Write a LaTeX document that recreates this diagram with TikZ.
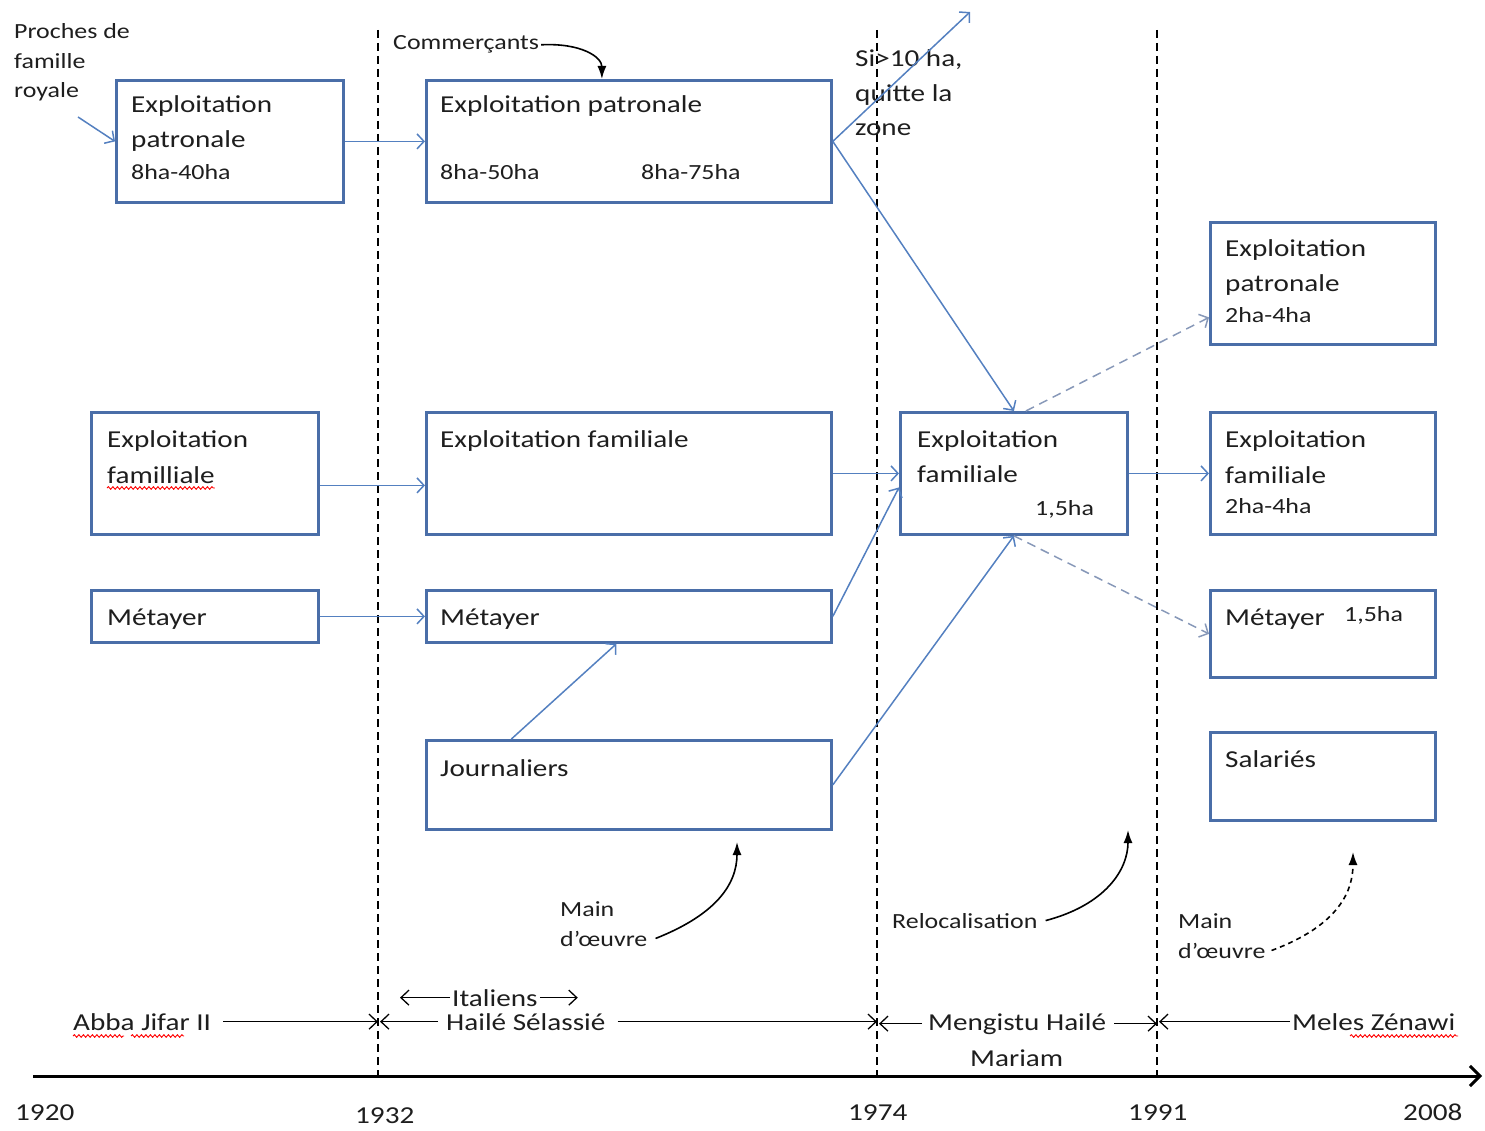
\documentclass[tikz,border=0pt]{standalone}
\usepackage{fontspec}
\setmainfont{Carlito}[FakeStretch=1.2]
\usetikzlibrary{arrows.meta,decorations.pathmorphing}
\definecolor{boxblue}{RGB}{74,110,168}
\definecolor{linkblue}{RGB}{84,128,192}
\definecolor{linkgrey}{RGB}{135,152,184}
\definecolor{inkgrey}{RGB}{30,30,30}
\newcommand\bigsize{\fontsize{24.3}{30}\selectfont}
\newcommand\smallsize{\fontsize{21.6}{26}\selectfont}
\tikzset{
  stage/.style={draw=boxblue, line width=2.8pt, anchor=north west, inner sep=0pt},
  bigtxt/.style={anchor=base west, inner sep=0pt, text=inkgrey, font=\bigsize},
  smalltxt/.style={bigtxt, font=\smallsize},
  flow/.style={draw=linkblue, line width=1.5pt, -{Straight Barb[length=7pt,width=15pt]}},
  weakflow/.style={flow, draw=linkgrey, dash pattern=on 9pt off 6pt},
  reign/.style={line width=1.3pt, -{Straight Barb[length=8pt,width=15pt]}},
  cue/.style={line width=1.6pt, -{Latex[length=13pt,width=9pt]}},
  epoch/.style={line width=1.5pt, dash pattern=on 8pt off 5pt},
  typo/.style={draw=red, line width=0.9pt, decorate,
    decoration={snake, amplitude=1.3pt, segment length=4.5pt}}
}
\begin{document}
\begin{tikzpicture}[x=1pt,y=-1pt]
    \useasboundingbox (0,0) rectangle (1485,1131);
    % epochs and time axis
    \foreach \x/\n in {378/e1932, 877/e1974, 1157/e1991} {
        \draw[epoch] (\x,30) -- (\x,1076);
        \coordinate (\n) at (\x,1020);
    }
    \coordinate (t0) at (33,1076);
    \coordinate (t1) at (1482,1076);
    \draw[line width=3pt, -{Straight Barb[length=10pt,width=20pt]}] (t0) -- (t1);
    \node[bigtxt] (y1920) at (15,1120) {1920};
    \node[bigtxt] (y1932) at (355,1123) {1932};
    \node[bigtxt] (y1974) at (848,1120) {1974};
    \node[bigtxt] (y1991) at (1128,1120) {1991};
    \node[bigtxt] (y2008) at (1403,1120) {2008};
    % reigns
    \node[bigtxt] (abba) at (73,1030) {Abba Jifar II};
    \node[bigtxt] (haile) at (446,1030) {Hailé Sélassié};
    \node[bigtxt] (ital) at (452,1006) {Italiens};
    \node[bigtxt] (mengistu) at (928,1030) {Mengistu Hailé};
    \node[bigtxt] (mariam) at (970,1066) {Mariam};
    \node[bigtxt] (meles) at (1292,1030) {Meles Zénawi};
    \draw[reign] ([xshift=12pt]abba.east) -- (abba.east -| e1932);
    \draw[reign] ([xshift=-8pt]haile.west) -- ([xshift=2pt]haile.west -| e1932);
    \draw[reign] ([xshift=12pt]haile.east) -- (haile.east -| e1974);
    \draw[reign] ([xshift=-6pt]mengistu.west) -- ([xshift=2pt]mengistu.west -| e1974);
    \draw[reign] ([xshift=8pt]mengistu.east) -- (mengistu.east -| e1991);
    \draw[reign] ([xshift=-2pt]meles.west) -- ([xshift=2pt]meles.west -| e1991);
    \draw[reign] ([xshift=-2pt]ital.west) -- ([xshift=-52pt]ital.west);
    \draw[reign] ([xshift=2pt]ital.east) -- ([xshift=40pt]ital.east);
    % spelling marks
    \draw[typo] (73,1036) -- (124,1036);
    \draw[typo] (131,1036) -- (184,1036);
    \draw[typo] (1350,1036) -- (1458,1036);
    % 1920-1932
    \node[stage, minimum width=227pt, minimum height=122pt] (patA) at (115,79) {};
    \node[stage, minimum width=227pt, minimum height=122pt] (famA) at (90,411) {};
    \node[stage, minimum width=227pt, minimum height=52pt] (metA) at (90,589) {};
    \node[bigtxt] (patA1) at (131,113) {Exploitation};
    \node[bigtxt] (patA2) at (131,148) {patronale};
    \node[smalltxt] (patA3) at (131,180) {8ha-40ha};
    \node[bigtxt] (famA1) at (107,447) {Exploitation};
    \node[bigtxt] (famA2) at (107,483) {familliale};
    \draw[typo] ([yshift=-5pt]famA2.base west) -- ([yshift=-5pt]famA2.base east);
    \node[bigtxt] (metA1) at (107,625) {Métayer};
    \node[smalltxt] (proch1) at (14,39) {Proches de};
    \node[smalltxt] (proch2) at (14,69) {famille};
    \node[smalltxt] (proch3) at (14,98) {royale};
    \coordinate (royal) at (78,117);
    % 1932-1974
    \node[stage, minimum width=405pt, minimum height=122pt] (patB) at (425,79) {};
    \node[stage, minimum width=405pt, minimum height=122pt] (famB) at (425,411) {};
    \node[stage, minimum width=405pt, minimum height=52pt] (metB) at (425,589) {};
    \node[stage, minimum width=405pt, minimum height=89pt] (jouB) at (425,739) {};
    \node[bigtxt] (patB1) at (440,113) {Exploitation patronale};
    \node[smalltxt] (patB2) at (440,180) {8ha-50ha};
    \node[smalltxt] (patB3) at (641,180) {8ha-75ha};
    \node[bigtxt] (famB1) at (440,447) {Exploitation familiale};
    \node[bigtxt] (metB1) at (440,625) {Métayer};
    \node[bigtxt] (jouB1) at (440,776) {Journaliers};
    \node[smalltxt] (comm) at (393,50) {Commerçants};
    \node[smalltxt] (mainB1) at (560,916) {Main};
    \node[smalltxt] (mainB2) at (560,946) {d’œuvre};
    \coordinate (mainB) at (737,842);
    % 1974-1991
    \node[stage, minimum width=227pt, minimum height=122pt] (famC) at (899,411) {};
    \node[bigtxt] (famC1) at (917,447) {Exploitation};
    \node[bigtxt] (famC2) at (917,482) {familiale};
    \node[smalltxt] (famC3) at (1035,515) {1,5ha};
    \node[bigtxt] (quit1) at (855,67) {Si>10 ha,};
    \node[bigtxt] (quit2) at (855,102) {quitte la};
    \node[bigtxt] (quit3) at (855,136) {zone};
    \coordinate (away) at (970,12);
    \node[smalltxt] (reloc) at (892,928) {Relocalisation};
    \coordinate (relocC) at (1128,830);
    % 1991-2008
    \node[stage, minimum width=225pt, minimum height=122pt] (patD) at (1209,221) {};
    \node[stage, minimum width=225pt, minimum height=122pt] (famD) at (1209,411) {};
    \node[stage, minimum width=225pt, minimum height=87pt] (metD) at (1209,589) {};
    \node[stage, minimum width=225pt, minimum height=88pt] (salD) at (1209,731) {};
    \node[bigtxt] (patD1) at (1225,257) {Exploitation};
    \node[bigtxt] (patD2) at (1225,292) {patronale};
    \node[smalltxt] (patD3) at (1225,323) {2ha-4ha};
    \node[bigtxt] (famD1) at (1225,447) {Exploitation};
    \node[bigtxt] (famD2) at (1225,483) {familiale};
    \node[smalltxt] (famD3) at (1225,513) {2ha-4ha};
    \node[bigtxt] (metD1) at (1225,625) {Métayer};
    \node[smalltxt] (metD2) at (1344,621) {1,5ha};
    \node[bigtxt] (salD1) at (1225,767) {Salariés};
    \node[smalltxt] (mainD1) at (1178,928) {Main};
    \node[smalltxt] (mainD2) at (1178,958) {d’œuvre};
    \coordinate (mainD) at (1353,852);
    % flows
    \draw[flow] (royal) -- (patA.west);
    \draw[flow] (patA.east) -- (patB.west);
    \draw[flow] ([yshift=-12pt]famA.east) -- ([yshift=-12pt]famB.west);
    \draw[flow] (metA.east) -- (metB.west);
    \draw[flow] (patB.east) -- (away);
    \draw[flow] (patB.east) -- (famC.north);
    \draw[flow] (famB.east) -- (famC.west);
    \draw[flow] (metB.east) -- ([yshift=-14pt]famC.west);
    \draw[flow] ([xshift=-117.5pt]jouB.north) -- ([xshift=-12.5pt]metB.south);
    \draw[flow] (jouB.east) -- (famC.south);
    \draw[flow] (famC.east) -- (famD.west);
    \draw[weakflow] ([xshift=12pt]famC.north) -- ([yshift=-34pt]patD.west);
    \draw[weakflow] (famC.south) -- (metD.west);
    % black cues
    \draw[cue] ([xshift=2pt]comm.east) .. controls +(40,-2) and +(0,-22) .. ([xshift=-27pt]patB.north);
    \draw[cue] ([xshift=8pt]mainB2.east) .. controls (715,915) and (737,885) .. (mainB);
    \draw[cue] ([xshift=8pt]reloc.east) .. controls (1105,905) and (1128,870) .. (relocC);
    \draw[cue, dash pattern=on 5pt off 4pt] ([xshift=6pt]mainD2.east) .. controls (1340,925) and (1353,890) .. (mainD);
\end{tikzpicture}
\end{document}
